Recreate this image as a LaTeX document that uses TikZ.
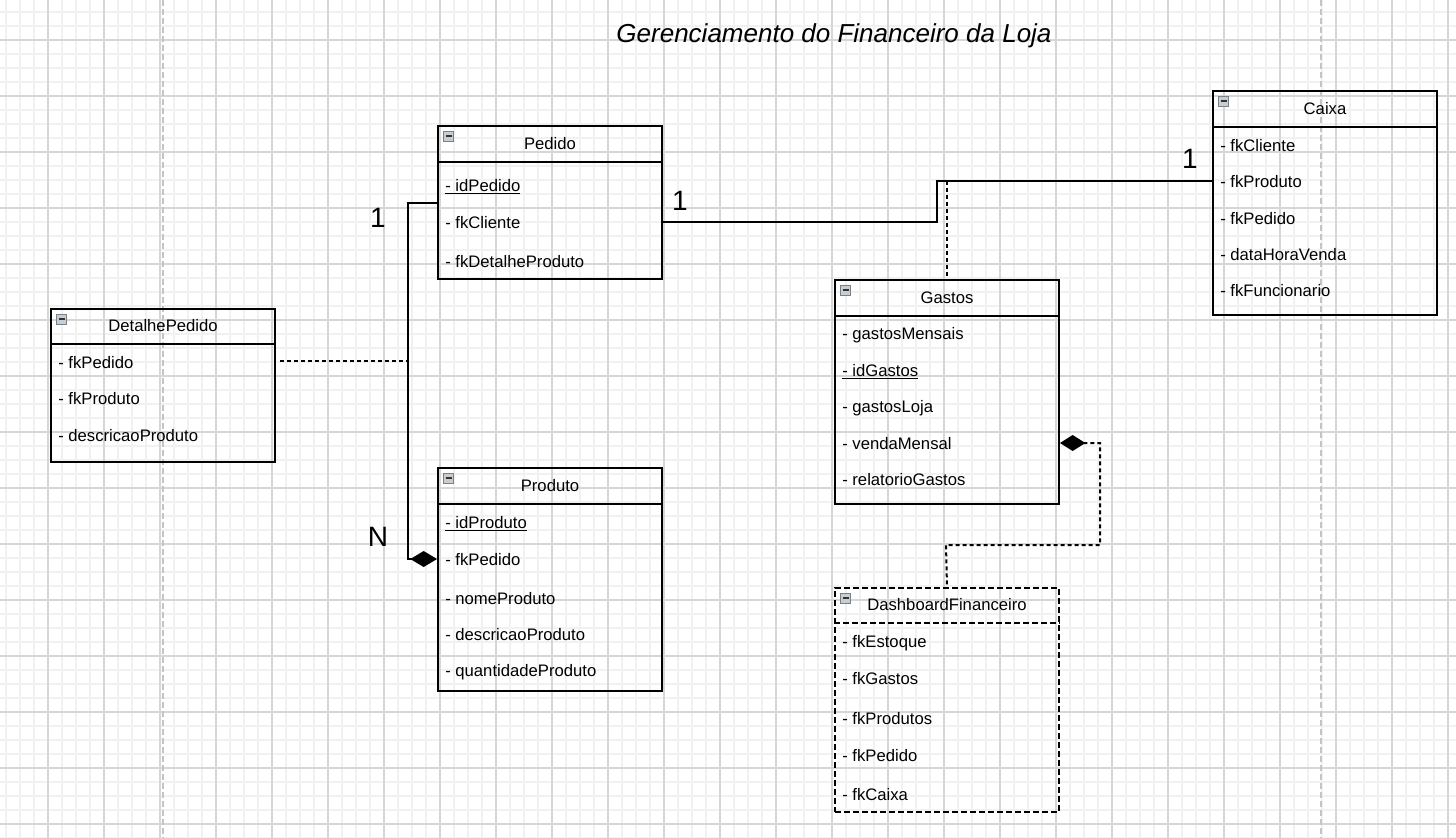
\documentclass[tikz,border=0pt]{standalone}
\usepackage{fontspec}
\setmainfont{Liberation Sans}
\usetikzlibrary{arrows.meta,calc}
\definecolor{gridminor}{HTML}{F1F1F1}
\definecolor{gridmajor}{HTML}{D6D6D6}
\definecolor{pagebrk}{HTML}{C4C4C4}
\definecolor{iconfill}{HTML}{C8CDD2}
\definecolor{iconline}{HTML}{7A8088}

\newcommand{\umlcls}[7]{% name, x, y, h(px), title, extra style, header(px)
  \node[clsbox,#6,minimum height=#4*0.75pt] (#1) at (#2,#3) {};
  \draw[#6,line width=1.5pt] ([yshift=-#7*0.75pt]#1.north west) -- ([yshift=-#7*0.75pt]#1.north east);
  \filldraw[fill=iconfill,draw=iconline,line width=0.6pt] ($(#1.north west)+(6.5,6)$) rectangle ($(#1.north west)+(16.5,16)$);
  \draw[black!80,line width=0.9pt] ($(#1.north west)+(8.5,11)$) -- ($(#1.north west)+(14.5,11)$);
  \node[clstitle] (#1-t) at ($(#1.north)+(0,#7/2)$) {#5};
}

\begin{document}
\begin{tikzpicture}[x=0.75pt,y=-0.75pt,
  clsbox/.style={draw=black,line width=1.5pt,inner sep=0pt,anchor=north west,minimum width=168pt},
  clstitle/.style={font=\fontsize{12.5}{14}\selectfont,inner sep=0pt,anchor=center},
  row/.style={font=\fontsize{12.5}{14}\selectfont,inner sep=0pt,anchor=west},
  dashbox/.style={dash pattern=on 4.5pt off 2.25pt},
  conn/.style={draw=black,line width=1.5pt},
  dconn/.style={draw=black,line width=1.5pt,dash pattern=on 3pt off 2.25pt},
  mult/.style={font=\fontsize{21}{24}\selectfont,inner sep=0pt}
]
\useasboundingbox (0,0) rectangle (1456,838);
\fill[white] (0,0) rectangle (1456,838);
\begin{scope}
\clip (0,0) rectangle (1456,838);
\foreach \i in {6,20,...,1460} \draw[gridminor,line width=1.3pt] (\i,0) -- (\i,838);
\foreach \j in {12,26,...,840} \draw[gridminor,line width=1.3pt] (0,\j) -- (1456,\j);
\foreach \i in {48,104,...,1460} \draw[gridmajor,line width=0.8pt] (\i,0) -- (\i,838);
\foreach \j in {40,96,...,840} \draw[gridmajor,line width=0.8pt] (0,\j) -- (1456,\j);
\draw[pagebrk,line width=1.5pt,dash pattern=on 4.5pt off 2.25pt] (163,0) -- (163,838);
\draw[pagebrk,line width=1.5pt,dash pattern=on 4.5pt off 2.25pt] (1321,0) -- (1321,838);
\end{scope}

% title
\node[font=\fontsize{19.5}{22}\selectfont\itshape,inner sep=0pt] (title) at (834,36) {Gerenciamento do Financeiro da Loja};

% classes
\umlcls{pedido}{437}{125}{153}{Pedido}{solid}{37}
\node[row] (ped1) at (445,186.5) {\underline{- idPedido}};
\node[row] (ped2) at (445,223) {- fkCliente};
\node[row] (ped3) at (445,262) {- fkDetalheProduto};

\umlcls{caixa}{1212}{90}{224}{Caixa}{solid}{37}
\node[row] (cai1) at (1220,146) {- fkCliente};
\node[row] (cai2) at (1220,182) {- fkProduto};
\node[row] (cai3) at (1220,219) {- fkPedido};
\node[row] (cai4) at (1220,255) {- dataHoraVenda};
\node[row] (cai5) at (1220,291) {- fkFuncionario};

\umlcls{gastos}{834}{279}{224}{Gastos}{solid}{37}
\node[row] (gas1) at (842,335) {- gastosMensais};
\node[row] (gas2) at (842,371.5) {\underline{- idGastos}};
\node[row] (gas3) at (842,408) {- gastosLoja};
\node[row] (gas4) at (842,444) {- vendaMensal};
\node[row] (gas5) at (842,480) {- relatorioGastos};

\umlcls{detalhe}{50}{308}{153}{DetalhePedido}{solid}{36}
\node[row] (det1) at (58,363) {- fkPedido};
\node[row] (det2) at (58,399) {- fkProduto};
\node[row] (det3) at (58,436) {- descricaoProduto};

\umlcls{produto}{437}{467}{223}{Produto}{solid}{37}
\node[row] (pro1) at (445,523.5) {\underline{- idProduto}};
\node[row] (pro2) at (445,560) {- fkPedido};
\node[row] (pro3) at (445,599) {- nomeProduto};
\node[row] (pro4) at (445,635) {- descricaoProduto};
\node[row] (pro5) at (445,672) {- quantidadeProduto};

\umlcls{dash}{834}{587}{224}{DashboardFinanceiro}{dashbox}{36}
\node[row] (das1) at (842,643) {- fkEstoque};
\node[row] (das2) at (842,679) {- fkGastos};
\node[row] (das3) at (842,719) {- fkProdutos};
\node[row] (das4) at (842,756) {- fkPedido};
\node[row] (das5) at (842,795) {- fkCaixa};

% connectors
\coordinate (j0) at (661,222);
\coordinate (j1) at (937,222);
\coordinate (j2) at (937,181);
\draw[conn] (pedido.east |- j0) -- (j1) -- (j2) -- (caixa.west |- j2);
\draw[dconn] (gastos.north |- j2) -- (gastos.north);

\coordinate (k1) at (408,203);
\coordinate (k2) at (408,559);
\coordinate (k3) at (408,361);
\draw[conn,-{Diamond[length=20pt,width=12pt]}] (pedido.west |- k1) -- (k1) -- (k2) -- (produto.west |- k2);
\draw[dconn] ($(detalhe.east |- k3)+(4,0)$) -- (k3);

\coordinate (m0) at (1058,443);
\coordinate (m1) at (1100,443);
\coordinate (m2) at (1100,545);
\coordinate (m3) at (946,545);
\draw[dconn,{Diamond[length=19pt,width=12pt]}-] (gastos.east |- m0) -- (m1) -- (m2) -- (m3) -- (dash.north);

% multiplicities
\node[mult] (mA) at (378,218) {1};
\node[mult] (mB) at (378,537) {N};
\node[mult] (mC) at (680,201) {1};
\node[mult] (mD) at (1190,159) {1};
\end{tikzpicture}
\end{document}
